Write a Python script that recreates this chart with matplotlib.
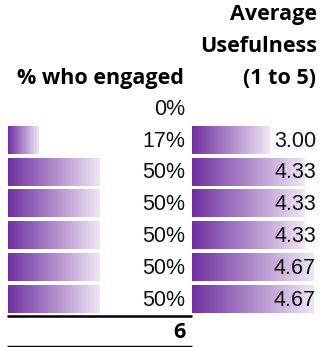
import matplotlib.pyplot as plt
import numpy as np
from matplotlib.colors import LinearSegmentedColormap

# data
engaged = [0, 0.167, 0.5, 0.5, 0.5, 0.5, 0.5]
engaged_labels = ["0%", "17%", "50%", "50%", "50%", "50%", "50%"]
usefulness = [np.nan, 3.00, 4.33, 4.33, 4.33, 4.67, 4.67]
total = 6

W, H = 324, 347
fig = plt.figure(figsize=(W / 100, H / 100), dpi=100)
ax = fig.add_axes([0, 0, 1, 1])
ax.set_xlim(0, W)
ax.set_ylim(H, 0)
ax.axis("off")

cmap = LinearSegmentedColormap.from_list("bar", ["#7030a0", "#efe6f5"])
grad = np.linspace(0, 1, 256).reshape(1, -1)

num_font = "Liberation Sans"
head_font = "Open Sans"
num_size = 15.5
head_size = 15.5

# column geometry (pixels)
left_x0, left_w = 8, 184      # 100% of engagement
right_x0, unit = 192, 26.0    # pixels per usefulness point
row0, pitch, bar_h = 108.2, 31.8, 27.5

for i, (f, lab, u) in enumerate(zip(engaged, engaged_labels, usefulness)):
    yc = row0 + i * pitch
    if f > 0:
        ax.imshow(grad, cmap=cmap, aspect="auto", interpolation="bilinear",
                  extent=[left_x0, left_x0 + f * left_w, yc + bar_h / 2, yc - bar_h / 2])
    ax.text(185, yc + 1, lab, ha="right", va="center", fontsize=num_size,
            family=num_font, color="#111111")
    if not np.isnan(u):
        ax.imshow(grad, cmap=cmap, aspect="auto", interpolation="bilinear",
                  extent=[right_x0, right_x0 + u * unit, yc + bar_h / 2, yc - bar_h / 2])
        ax.text(316, yc + 1, f"{u:.2f}", ha="right", va="center", fontsize=num_size,
                family=num_font, color="#111111")

# headers
ax.text(317, 14, "Average", ha="right", va="center", fontsize=head_size,
        family=head_font, fontweight="bold")
ax.text(317, 46, "Usefulness", ha="right", va="center", fontsize=head_size,
        family=head_font, fontweight="bold")
ax.text(316, 78, "(1 to 5)", ha="right", va="center", fontsize=head_size,
        family=head_font, fontweight="bold")
ax.text(184, 78, "% who engaged", ha="right", va="center", fontsize=head_size,
        family=head_font, fontweight="bold")

# total row
ax.plot([7, 192], [315.7, 315.7], color="black", lw=1.8, solid_capstyle="butt")
ax.text(185, 332, str(total), ha="right", va="center", fontsize=head_size,
        family=head_font, fontweight="bold")
ax.plot([7, 192], [345.7, 345.7], color="black", lw=1.0, solid_capstyle="butt")

fig.savefig("out.png", dpi=100)
